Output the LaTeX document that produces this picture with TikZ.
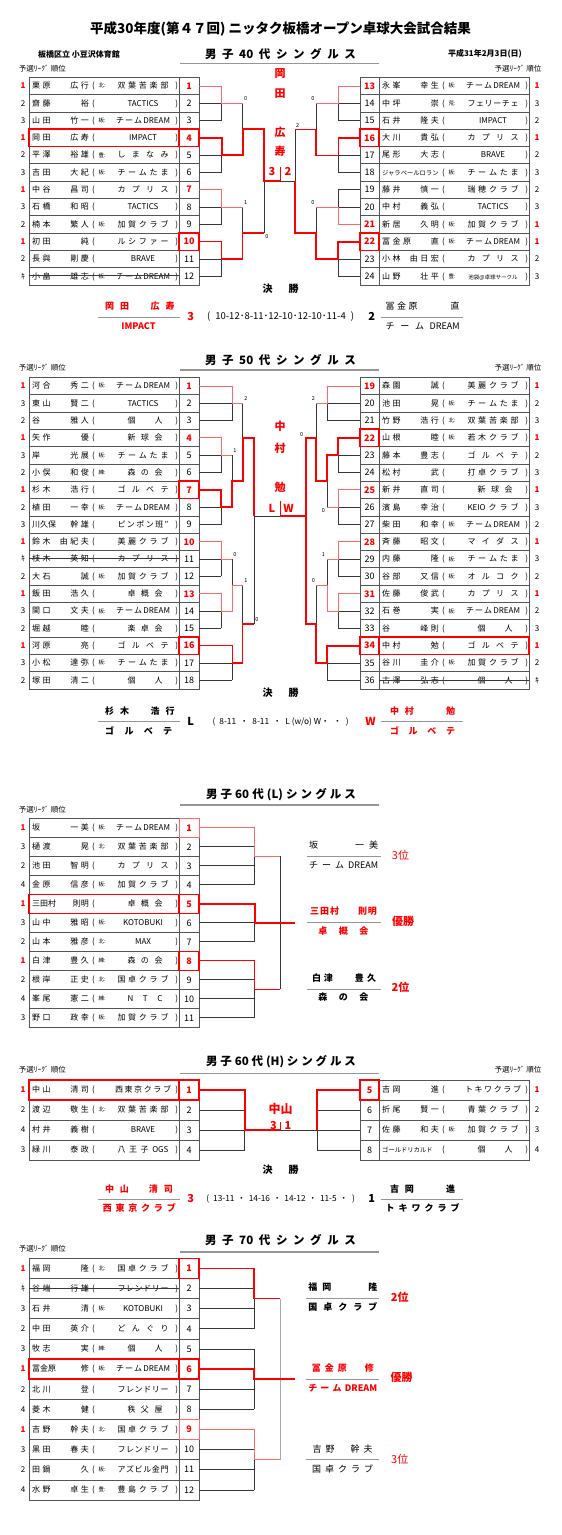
\documentclass[tikz,border=0pt]{standalone}
\usepackage{fontspec}
\setmainfont{Noto Sans CJK JP}
\definecolor{gline}{RGB}{55,55,55}
\definecolor{cellc}{RGB}{85,85,85}
\definecolor{lred}{RGB}{255,105,105}
\definecolor{uline}{RGB}{150,150,150}
\definecolor{vline}{RGB}{170,170,170}
\newcommand\fsz[1]{\fontsize{#1}{#1}\selectfont}
\def\spacedaux#1{\ifx\relax#1\relax\else\spsep\let\spsep\spnext#1\expandafter\spacedaux\fi}
\newcommand\spaced[2]{{\def\spnext{\kern#1}\let\spsep\relax\spacedaux#2\relax}}
\newcommand\distr[2]{\hbox to #1{\def\spnext{\hfil}\let\spsep\relax\spacedaux#2\relax}}
\newcommand\clL[1]{\distr{51pt}{#1}}
\newcommand\clS[1]{\kern4pt\distr{35pt}{#1}}
\newcommand\clD{\distr{54pt}{チーム{DREAM}}}
\newcommand\rd{\bfseries\color{red}}
\newcommand\RY[1]{\tY+\hY*(#1-0.5)}
\newcommand\RT[1]{\tY+\hY*(#1)}
\newcommand\namecell[6]{%
 \node[nm,anchor=west] at (#1+3,{\RY{#2}}) {\spaced{2.5pt}{#3}};
 \node[nm,anchor=east] at (#1+60,{\RY{#2}}) {\spaced{2.5pt}{#4}};
 \node[nm] at (#1+64.5,{\RY{#2}}) {(};
 \node[pf,anchor=west] at (#1+69.5,{\RY{#2}}) {#5};
 \node[nm] at (#1+114,{\RY{#2}}) {#6};
 \node[nm] at (#1+147.7,{\RY{#2}}) {)};}
\newcommand\rowL[7]{%
 \draw[cell] (29,{\RT{#1-1}}) rectangle (179,{\RT{#1}});
 \draw[cell] (179,{\RT{#1-1}}) rectangle (199,{\RT{#1}});
 \node[rk] at (23,{\RY{#1}}) {#2};
 \node[num] at (189,{\RY{#1}}) {#7};
 \namecell{29}{#1}{#3}{#4}{#5}{#6}}
\newcommand\rowR[7]{%
 \draw[cell] (360,{\RT{#1-1}}) rectangle (379,{\RT{#1}});
 \draw[cell] (379,{\RT{#1-1}}) rectangle (529,{\RT{#1}});
 \node[num] at (369.5,{\RY{#1}}) {#2};
 \node[rk] at (537,{\RY{#1}}) {#7};
 \namecell{379}{#1}{#3}{#4}{#5}{#6}}
\newcommand\nbL[2][rbox]{\draw[#1] (179,{\RT{#2-1}}) rectangle (199,{\RT{#2}});}
\newcommand\abL[2][rbox]{\draw[#1] (29,{\RT{#2-1}}) rectangle (179,{\RT{#2}});\nbL[#1]{#2}}
\newcommand\nbR[2][rbox]{\draw[#1] (360,{\RT{#2-1}}) rectangle (379,{\RT{#2}});}
\newcommand\abR[2][rbox]{\draw[#1] (379,{\RT{#2-1}}) rectangle (529,{\RT{#2}});\nbR[#1]{#2}}
\newcommand\stL[1]{\draw[gl] (29,{\RY{#1}-0.5}) -- (179,{\RY{#1}-0.5});}
\newcommand\stR[1]{\draw[gl] (379,{\RY{#1}-0.5}) -- (529,{\RY{#1}-0.5});}
\newcommand\yosen[2]{\node[yl] at (#1,#2) {予選ﾘｰｸﾞ\kern2pt 順位};}
\tikzset{
 gl/.style={draw=gline,line width=0.7pt},
 lr/.style={draw=lred,line width=0.9pt},
 mr/.style={draw=red,line width=1.3pt},
 tr/.style={draw=red,line width=2pt},
 cell/.style={draw=cellc,line width=0.7pt},
 rbox/.style={draw=red,line width=1.6pt},
 lbox/.style={draw=lred,line width=1pt},
 fl/.style={draw=uline,line width=1.2pt},
 ul/.style={draw=uline,line width=1.6pt},
 nm/.style={inner sep=0pt,font=\fsz{8},text height=6.4pt,text depth=0.8pt},
 pf/.style={inner sep=0pt,font=\fsz{5.5},text height=4.4pt,text depth=0.6pt},
 num/.style={inner sep=0pt,font=\fsz{9},text height=7pt,text depth=0.6pt},
 rk/.style={inner sep=0pt,font=\fsz{8},text height=6.2pt,text depth=0.6pt},
 sc/.style={inner sep=0pt,font=\fsz{5.5}},
 yl/.style={inner sep=0pt,font=\fsz{7.5}},
 hd/.style={inner sep=0pt,font=\bfseries\fsz{11.5}},
 fn/.style={inner sep=0pt,font=\bfseries\fsz{9},text height=7.2pt,text depth=0.9pt},
 fr/.style={inner sep=0pt,font=\fsz{9},text height=7.2pt,text depth=0.9pt},
 big/.style={inner sep=0pt,font=\bfseries\fsz{11}},
 pl/.style={inner sep=0pt,font=\fsz{11}},
 scr/.style={inner sep=0pt,font=\fsz{9.5}},
 scs/.style={inner sep=0pt,font=\fsz{8.3}},
}
\begin{document}
\begin{tikzpicture}[x=1pt,y=-1pt,line join=miter]
\useasboundingbox (0,0) rectangle (562,1535);
\fill[white] (0,0) rectangle (562,1535);
% ---------- header ----------
\node[inner sep=0pt,font=\bfseries\fsz{13.5}] (title) at (280.5,29) {平成30年度(第４７回) ニッタク板橋オープン卓球大会試合結果};
\node[inner sep=0pt,font=\bfseries\fsz{8}] (venue) at (79,54.3) {板橋区立 小豆沢体育館};
\node[inner sep=0pt,font=\bfseries\fsz{8}] (date) at (485,54.3) {平成31年2月3日(日)};
% =================== 40s ===================
\def\tY{77.3}\def\hY{17.3}
\node[hd] at (280.5,54.3) {\distr{151pt}{男子{40}代シングルス}};
\draw[ul] (180,63.3) -- (379,63.3);
\yosen{42.5}{69}\yosen{518}{69}
\rowL{1}{\rd 1}{栗原}{広行}{北:}{\clL{双葉苦楽部}}{\rd 1}
\rowL{2}{2}{齋藤}{裕}{}{TACTICS}{2}
\rowL{3}{3}{山田}{竹一}{板:}{\clD}{3}
\rowL{4}{\rd 1}{岡田}{広寿}{}{IMPACT}{\rd 4}
\rowL{5}{2}{平澤}{裕雄}{豊:}{\clL{しまなみ}}{5}
\rowL{6}{3}{吉田}{大紀}{板:}{\clL{チームたま}}{6}
\rowL{7}{\rd 1}{中谷}{昌司}{}{\clL{カプリス}}{\rd 7}
\rowL{8}{3}{石橋}{和昭}{}{TACTICS}{8}
\rowL{9}{2}{楠本}{繁人}{板:}{\clL{加賀クラブ}}{9}
\rowL{10}{\rd 1}{初田}{純}{}{\clL{ルシファー}}{\rd 10}
\rowL{11}{2}{長與}{剛慶}{}{BRAVE}{11}
\rowL{12}{ｷ}{小畠}{雄志}{板:}{\clD}{12}
\rowR{1}{\rd 13}{永峯}{幸生}{板:}{\clD}{\rd 1}
\rowR{2}{14}{中坪}{崇}{荒:}{\clL{フェリーチェ}}{3}
\rowR{3}{15}{石井}{隆夫}{}{IMPACT}{2}
\rowR{4}{\rd 16}{大川}{貴弘}{}{\clL{カプリス}}{\rd 1}
\rowR{5}{17}{尾形}{大志}{}{BRAVE}{2}
\rowR{6}{18}{{\fsz{6.3}ジャラベールロラン}}{}{板:}{\clL{チームたま}}{3}
\rowR{7}{19}{藤井}{慎一}{}{\clL{瑞穂クラブ}}{2}
\rowR{8}{20}{中村}{義弘}{}{TACTICS}{3}
\rowR{9}{\rd 21}{新居}{久明}{板:}{\clL{加賀クラブ}}{\rd 1}
\rowR{10}{\rd 22}{冨金原}{直}{板:}{\clD}{\rd 1}
\rowR{11}{23}{小林}{由日宏}{}{\clL{カプリス}}{2}
\rowR{12}{24}{山野}{壮平}{豊:}{{\fsz{5.5}池袋@卓球サークル}}{3}
\stL{12}
\abL{4}\nbL{10}\nbR{4}\nbR{10}
% left tree
\def\xa{221.7}\def\xb{242.7}\def\xc{264}
\foreach \q in {2,3,5,6,8,9,11,12} \draw[gl] (199,{\RY{\q}}) -- (\xa,{\RY{\q}});
\foreach \q in {2,5,8,11} \draw[gl] (\xa,{\RY{\q}}) -- (\xa,{\RY{\q+1}});
\draw[gl] (\xb,{\RY{2}}) -- (\xb,{\RY{3.5}});
\draw[gl] (\xb,{\RY{8}}) -- (\xb,{\RY{9.5}});
\draw[gl] (\xc,{\RY{6.5}}) -- (\xc,{\RY{9.5}});
\draw[lr] (199,{\RY{1}}) -| (\xa,{\RY{2}}) -- (\xb,{\RY{2}});
\draw[lr] (199,{\RY{7}}) -| (\xa,{\RY{8}}) -- (\xb,{\RY{8}});
\draw[mr] (199,{\RY{10}}) -| (\xa,{\RY{11}}) -- (\xb,{\RY{11}}) |- (\xc,{\RY{9.5}});
\draw[tr] (199,{\RY{4}}) -| (\xa,{\RY{5}}) -- (\xb,{\RY{5}}) |- (\xc,{\RY{3.5}}) |- (280,{\RY{6.5}});
% right tree
\def\xa{338.3}\def\xb{316}\def\xc{295}
\foreach \q in {2,3,5,6,7,8,11,12} \draw[gl] (360,{\RY{\q}}) -- (\xa,{\RY{\q}});
\foreach \q in {2,5,7,11} \draw[gl] (\xa,{\RY{\q}}) -- (\xa,{\RY{\q+1}});
\draw[gl] (\xb,{\RY{2}}) -- (\xb,{\RY{3.5}});
\draw[gl] (\xb,{\RY{8}}) -- (\xb,{\RY{9.5}});
\draw[gl] (\xc,{\RY{3.5}}) |- (280,{\RY{6.5}});
\draw[lr] (360,{\RY{1}}) -| (\xa,{\RY{2}}) -- (\xb,{\RY{2}});
\draw[lr] (360,{\RY{9}}) -| (\xa,{\RY{8}}) -- (\xb,{\RY{8}});
\draw[mr] (360,{\RY{4}}) -| (\xa,{\RY{5}}) -- (\xb,{\RY{5}}) |- (\xc,{\RY{3.5}});
\draw[tr] (360,{\RY{10}}) -| (\xa,{\RY{11}}) -- (\xb,{\RY{11}}) |- (\xc,{\RY{9.5}}) -- (\xc,{\RY{6.5}});
\draw[red,line width=0.8pt] (280,166.7) -- (280,{\RY{6.5}});
\node[sc] at (245.7,98.3) {0};\node[sc] at (245.7,203) {1};\node[sc] at (267,237) {0};
\node[sc] at (313,98.3) {0};\node[sc] at (313,203) {0};\node[sc] at (297.7,125.7) {2};
\node[big,text=red] at (272,171.5) {3};\node[big,text=red] at (288,171.5) {2};
\node[big,text=red] at (280,74) {岡};\node[big,text=red] at (280,93.3) {田};
\node[big,text=red] at (280,132.7) {広};\node[big,text=red] at (280,151) {寿};
% final 40s
\node[inner sep=0pt,font=\bfseries\fsz{10}] at (280.6,288.3) {\distr{36pt}{決勝}};
\draw[fl] (97.8,317.7) -- (179.9,317.7);
\draw[fl] (380.6,317.7) -- (463.3,317.7);
\node[fn,text=red] at (139.8,306.7) {\hbox to 69.5pt{\spaced{6pt}{岡田}\hfil\spaced{6pt}{広寿}}};
\node[fn,text=red] at (138.5,326.5) {IMPACT};
\node[big,text=red] at (190.6,316.7) {3};
\node[scr] at (280.6,316.7) {(\hskip5pt 10-12･8-11･12-10･12-10･11-4\hskip5pt)};
\node[big] at (371.6,316.7) {2};
\node[fr] at (422.7,306.7) {\hbox to 74pt{\spaced{2.5pt}{冨金原}\hfil 直}};
\node[fr] at (422.7,326.5) {\distr{74pt}{チーム{DREAM}}};
% =================== 50s ===================
\def\tY{377.3}\def\hY{17.32}
\node[hd] at (280.5,360) {\distr{151pt}{男子{50}代シングルス}};
\draw[ul] (180,370) -- (379,370);
\yosen{42.5}{368}\yosen{518}{368}
\rowL{1}{\rd 1}{河合}{秀二}{板:}{\clD}{\rd 1}
\rowL{2}{3}{東山}{賢二}{}{TACTICS}{2}
\rowL{3}{2}{谷}{雅人}{}{\clS{個人}}{3}
\rowL{4}{\rd 1}{矢作}{優}{}{\clS{新球会}}{\rd 4}
\rowL{5}{3}{岸}{光展}{板:}{\clL{チームたま}}{5}
\rowL{6}{2}{小俣}{和俊}{練:}{\clS{森の会}}{6}
\rowL{7}{\rd 1}{杉木}{浩行}{}{\clL{ゴルベテ}}{\rd 7}
\rowL{8}{2}{植田}{一幸}{板:}{\clD}{8}
\rowL{9}{3}{{川久保}}{幹雄}{}{\clL{ピンポン班”}}{9}
\rowL{10}{\rd 1}{鈴木}{由紀夫}{}{\clL{美麗クラブ}}{\rd 10}
\rowL{11}{ｷ}{枝木}{英知}{}{\clL{カプリス}}{11}
\rowL{12}{2}{大石}{誠}{板:}{\clL{加賀クラブ}}{12}
\rowL{13}{\rd 1}{飯田}{浩久}{}{\clS{卓概会}}{\rd 13}
\rowL{14}{3}{関口}{文夫}{板:}{\clD}{14}
\rowL{15}{2}{堀越}{睦}{}{\clS{楽卓会}}{15}
\rowL{16}{\rd 1}{河原}{亮}{}{\clL{ゴルベテ}}{\rd 16}
\rowL{17}{3}{小松}{達弥}{板:}{\clL{チームたま}}{17}
\rowL{18}{2}{塚田}{清二}{}{\clS{個人}}{18}
\rowR{1}{\rd 19}{森園}{誠}{}{\clL{美麗クラブ}}{\rd 1}
\rowR{2}{20}{池田}{晃}{板:}{\clL{チームたま}}{2}
\rowR{3}{21}{竹野}{浩行}{北:}{\clL{双葉苦楽部}}{3}
\rowR{4}{\rd 22}{山根}{睦}{板:}{\clL{若木クラブ}}{\rd 1}
\rowR{5}{23}{藤本}{豊志}{}{\clL{ゴルベテ}}{2}
\rowR{6}{24}{松村}{武}{}{\clL{打卓クラブ}}{3}
\rowR{7}{\rd 25}{新井}{直司}{}{\clS{新球会}}{\rd 1}
\rowR{8}{26}{濱島}{幸治}{}{\clL{{KEIO}クラブ}}{3}
\rowR{9}{27}{柴田}{和幸}{板:}{\clD}{2}
\rowR{10}{\rd 28}{斉藤}{昭文}{}{\clL{マイダス}}{\rd 1}
\rowR{11}{29}{内藤}{隆}{板:}{\clL{チームたま}}{3}
\rowR{12}{30}{谷部}{又信}{板:}{\clL{オルコク}}{2}
\rowR{13}{\rd 31}{佐藤}{俊武}{}{\clL{カプリス}}{\rd 1}
\rowR{14}{32}{石巻}{実}{板:}{\clD}{2}
\rowR{15}{33}{谷}{峰則}{}{\clS{個人}}{3}
\rowR{16}{\rd 34}{中村}{勉}{}{\clL{ゴルベテ}}{\rd 1}
\rowR{17}{35}{谷川}{圭介}{板:}{\clL{加賀クラブ}}{2}
\rowR{18}{36}{古澤}{弘志}{}{\clS{個人}}{ｷ}
\stL{11}\stR{18}
\nbL{7}\nbL{16}\nbR{4}\abR{16}
% left tree
\def\xa{221}\def\xb{232.3}\def\xc{242.7}\def\xd{254}
\foreach \q in {2,3,17,18} \draw[gl] (199,{\RY{\q}}) -- (\xb,{\RY{\q}});
\foreach \q in {5,6,8,9,11,12,14,15} \draw[gl] (199,{\RY{\q}}) -- (\xa,{\RY{\q}});
\foreach \q in {2,17} \draw[gl] (\xb,{\RY{\q}}) -- (\xb,{\RY{\q+1}});
\foreach \q in {5,8,11,14} \draw[gl] (\xa,{\RY{\q}}) -- (\xa,{\RY{\q+1}});
\draw[gl] (\xb,{\RY{5}}) -- (\xb,{\RY{6.5}});
\draw[gl] (\xb,{\RY{11}}) -- (\xb,{\RY{12.5}});
\draw[gl] (\xc,{\RY{2}}) -- (\xc,{\RY{4}});
\draw[gl] (\xc,{\RY{12.5}}) -- (\xc,{\RY{14.75}});
\draw[gl] (\xd,{\RY{14.75}}) -- (\xd,516) -- (280,516);
\draw[lr] (199,{\RY{1}}) -| (\xb,{\RY{2}}) -- (\xc,{\RY{2}});
\draw[lr] (199,{\RY{4}}) -| (\xa,{\RY{5}}) -- (\xb,{\RY{5}});
\draw[lr] (199,{\RY{10}}) -| (\xa,{\RY{11}}) -- (\xb,{\RY{11}});
\draw[lr] (199,{\RY{13}}) -| (\xa,{\RY{14}}) -- (\xb,{\RY{14}}) |- (\xc,{\RY{12.5}});
\draw[mr] (199,{\RY{16}}) -| (\xb,{\RY{17}}) -- (\xc,{\RY{17}}) |- (\xd,{\RY{14.75}});
\draw[tr] (199,{\RY{7}}) -| (\xa,{\RY{8}}) -- (\xb,{\RY{8}}) |- (\xc,{\RY{6.5}}) |- (\xd,{\RY{4}}) -- (\xd,516);
\node[sc] at (246,398.3) {2};\node[sc] at (235,451) {1};\node[sc] at (235,555) {0};
\node[sc] at (246,580.7) {1};\node[sc] at (257,620) {0};
% right tree
\def\xa{338.3}\def\xb{327.3}\def\xc{316}\def\xd{306}
\foreach \q in {2,3,17,18} \draw[gl] (360,{\RY{\q}}) -- (\xb,{\RY{\q}});
\foreach \q in {5,6,8,9,11,12,14,15} \draw[gl] (360,{\RY{\q}}) -- (\xa,{\RY{\q}});
\foreach \q in {2,17} \draw[gl] (\xb,{\RY{\q}}) -- (\xb,{\RY{\q+1}});
\foreach \q in {5,8,11,14} \draw[gl] (\xa,{\RY{\q}}) -- (\xa,{\RY{\q+1}});
\draw[gl] (\xb,{\RY{6.5}}) -- (\xb,{\RY{8}});
\draw[gl] (\xb,{\RY{11}}) -- (\xb,{\RY{12.5}});
\draw[gl] (\xc,{\RY{2}}) -- (\xc,{\RY{4}});
\draw[gl] (\xc,{\RY{12.5}}) -- (\xc,{\RY{14.75}});
\draw[lr] (360,{\RY{1}}) -| (\xb,{\RY{2}}) -- (\xc,{\RY{2}});
\draw[lr] (360,{\RY{7}}) -| (\xa,{\RY{8}}) -- (\xb,{\RY{8}});
\draw[lr] (360,{\RY{10}}) -| (\xa,{\RY{11}}) -- (\xb,{\RY{11}});
\draw[lr] (360,{\RY{13}}) -| (\xa,{\RY{14}}) -- (\xb,{\RY{14}}) |- (\xc,{\RY{12.5}});
\draw[tr] (360,{\RY{4}}) -| (\xa,{\RY{5}}) -- (\xb,{\RY{5}}) |- (\xc,{\RY{6.5}}) |- (\xd,{\RY{4}}) -- (\xd,516);
\draw[tr] (360,{\RY{16}}) -| (\xb,{\RY{17}}) -- (\xc,{\RY{17}}) |- (\xd,{\RY{14.75}}) |- (280,516);
\node[sc] at (313.3,398.3) {2};\node[sc] at (323.3,510.7) {0};\node[sc] at (323.3,555) {1};
\node[sc] at (313.3,580.7) {0};\node[sc] at (301.7,434.3) {0};
\draw[red,line width=0.8pt] (280,501) -- (280,516);
\node[big,text=red] at (272,508.3) {L};\node[big,text=red] at (288.5,508.3) {W};
\node[big,text=red] at (280,426.7) {中};\node[big,text=red] at (280,448.3) {村};
\node[big,text=red] at (280,487.5) {勉};
% final 50s
\node[inner sep=0pt,font=\bfseries\fsz{10}] at (280.6,692.7) {\distr{36pt}{決勝}};
\draw[fl] (97.8,721.7) -- (179.9,721.7);
\draw[fl] (380.6,721.7) -- (463.3,721.7);
\node[fn] at (139.8,711.7) {\hbox to 69.5pt{\spaced{6pt}{杉木}\hfil\spaced{6pt}{浩行}}};
\node[fn] at (138.7,731) {\distr{67pt}{ゴルベテ}};
\node[big] at (190.6,721.7) {L};
\node[scs] at (280.6,721.7) {(\hskip4pt 8-11\hskip4pt ・\hskip4pt 8-11\hskip4pt ・\hskip4pt L (w/o) W・\hskip4pt ・\hskip4pt)};
\node[big,text=red] at (370.5,721.7) {W};
\node[fn,text=red] at (422.5,711.7) {\hbox to 65pt{\spaced{6pt}{中村}\hfil 勉}};
\node[fn,text=red] at (422.5,731) {\distr{65pt}{ゴルベテ}};
% =================== 60L ===================
\def\tY{818.3}\def\hY{19}
\node[hd] at (281,795) {\distr{150pt}{男子{60}代{(L)}シングルス}};
\draw[ul] (180,805) -- (379,805);
\yosen{42.5}{810}
\rowL{1}{\rd 1}{坂}{一美}{板:}{\clD}{\rd 1}
\rowL{2}{3}{樋渡}{晃}{北:}{\clL{双葉苦楽部}}{2}
\rowL{3}{2}{池田}{智明}{}{\clL{カプリス}}{3}
\rowL{4}{4}{金原}{信彦}{板:}{\clL{加賀クラブ}}{4}
\rowL{5}{\rd 1}{{三田村}}{{則明}}{}{\clS{卓概会}}{\rd 5}
\rowL{6}{3}{山中}{雅昭}{板:}{KOTOBUKI}{6}
\rowL{7}{2}{山本}{雅彦}{北:}{MAX}{7}
\rowL{8}{\rd 1}{白津}{豊久}{練:}{\clS{森の会}}{\rd 8}
\rowL{9}{2}{根岸}{正史}{北:}{\clL{国卓クラブ}}{9}
\rowL{10}{4}{峯尾}{憲二}{練:}{\clS{NTC}}{10}
\rowL{11}{3}{野口}{政幸}{板:}{\clL{加賀クラブ}}{11}
\nbL[lbox]{1}\abL{5}\nbL{8}
\foreach \q in {2,3,4,6,7,9,10,11} \draw[gl] (199,{\RY{\q}}) -- (254.7,{\RY{\q}});
\draw[gl] (254.7,{\RY{2.5}}) -- (254.7,{\RY{4}});
\draw[gl] (254.7,{\RY{6}}) -- (254.7,{\RY{7}});
\draw[gl] (254.7,{\RY{9.5}}) -- (254.7,{\RY{11}});
\draw[gl] (280,{\RY{2.5}}) -- (280,{\RY{9.5}});
\draw[lr] (199,{\RY{1}}) -| (254.7,{\RY{2.5}}) -- (280,{\RY{2.5}});
\draw[mr] (199,{\RY{8}}) -| (254.7,{\RY{9.5}}) -- (280,{\RY{9.5}});
\draw[tr] (199,{\RY{5}}) -| (254.7,{\RY{6}}) -- (295,{\RY{6}});
\draw[fl] (306.8,{\RY{2.5}}) -- (380.6,{\RY{2.5}});
\draw[fl] (306.8,{\RY{6}}) -- (380.6,{\RY{6}});
\draw[fl] (306.8,{\RY{9.5}}) -- (380.6,{\RY{9.5}});
\node[fr] at (343.7,845.7) {\hbox to 69pt{坂\hfil\spaced{5pt}{一美}}};
\node[fr] at (343.7,865.5) {\distr{69pt}{チーム{DREAM}}};
\node[pl,text=red] at (400.5,855) {3位};
\node[fn,text=red] at (343.5,911.7) {\hbox to 67pt{\spaced{1pt}{三田村}\hfil\spaced{1pt}{則明}}};
\node[fn,text=red] at (343.4,931.5) {\distr{50pt}{卓概会}};
\node[big,text=red] at (403,921.7) {優勝};
\node[fn] at (344,978.3) {\hbox to 64pt{\spaced{3pt}{白津}\hfil\spaced{3pt}{豊久}}};
\node[fn] at (343.4,997.5) {\distr{50pt}{森の会}};
\node[big,text=red] at (400.5,987.3) {2位};
% =================== 60H ===================
\def\tY{1080}\def\hY{20}
\node[hd] at (281,1061.7) {\distr{150pt}{男子{60}代{(H)}シングルス}};
\draw[ul] (180,1073.3) -- (379,1073.3);
\yosen{42.5}{1070}\yosen{518}{1070}
\rowL{1}{\rd 1}{中山}{清司}{}{\distr{56pt}{西東京クラブ}}{\rd 1}
\rowL{2}{2}{渡辺}{敬生}{北:}{\clL{双葉苦楽部}}{2}
\rowL{3}{4}{村井}{義樹}{}{BRAVE}{3}
\rowL{4}{3}{緑川}{泰政}{}{\clL{八王子{OGS}}}{4}
\rowR{1}{\rd 5}{吉岡}{進}{}{\distr{56pt}{トキワクラブ}}{\rd 1}
\rowR{2}{6}{折尾}{賢一}{}{\clL{青葉クラブ}}{2}
\rowR{3}{7}{佐藤}{和夫}{板:}{\clL{加賀クラブ}}{3}
\rowR{4}{8}{{\fsz{6.3}ゴールドリカルド}}{}{}{\clS{個人}}{4}
\abL{1}\nbR{1}
\foreach \q in {2,3,4} \draw[gl] (199,{\RY{\q}}) -- (244.6,{\RY{\q}});
\draw[gl] (244.6,{\RY{3}}) -- (244.6,{\RY{4}});
\foreach \q in {2,3,4} \draw[gl] (360,{\RY{\q}}) -- (317.3,{\RY{\q}});
\draw[gl] (317.3,{\RY{4}}) -- (317.3,{\RY{3}}) -- (280.6,{\RY{3}});
\draw[tr] (199,{\RY{1}}) -| (244.6,{\RY{3}}) -- (280.6,{\RY{3}});
\draw[tr] (360,{\RY{1}}) -| (317.3,{\RY{3}});
\draw[red,line width=0.8pt] (280.6,1121.5) -- (280.6,{\RY{3}});
\node[big,text=red] at (273.4,1125) {3};\node[big,text=red] at (288,1125) {1};
\node[inner sep=0pt,font=\bfseries\fsz{12},text=red] at (280.6,1109) {中山};
\node[inner sep=0pt,font=\bfseries\fsz{10}] at (280.6,1170) {\distr{36pt}{決勝}};
\draw[fl] (97.8,1199.3) -- (179.9,1199.3);
\draw[fl] (380.6,1199.3) -- (463.3,1199.3);
\node[fn,text=red] at (139,1189) {\hbox to 68pt{\spaced{6pt}{中山}\hfil\spaced{6pt}{清司}}};
\node[fn,text=red] at (139.3,1208.8) {\distr{73pt}{西東京クラブ}};
\node[big,text=red] at (190.6,1198.5) {3};
\node[scs] at (280.6,1198.5) {(\hskip4pt 13-11\hskip3pt ・\hskip3pt 14-16\hskip3pt ・\hskip3pt 14-12\hskip3pt ・\hskip3pt 11-5\hskip3pt ・\hskip4pt)};
\node[big] at (371.6,1198.5) {1};
\node[fn] at (422.5,1189) {\hbox to 65pt{\spaced{6pt}{吉岡}\hfil 進}};
\node[fn] at (422.7,1208.8) {\distr{74pt}{トキワクラブ}};
% =================== 70s ===================
\def\tY{1258.3}\def\hY{20.14}
\node[hd] at (280.5,1240) {\distr{151pt}{男子{70}代シングルス}};
\draw[ul] (180,1251.7) -- (379,1251.7);
\yosen{42.5}{1249}
\rowL{1}{\rd 1}{福岡}{隆}{北:}{\clL{国卓クラブ}}{\rd 1}
\rowL{2}{ｷ}{谷端}{行雄}{}{\clL{フレンドリー}}{2}
\rowL{3}{3}{石井}{清}{板:}{KOTOBUKI}{3}
\rowL{4}{2}{中田}{英介}{}{\clL{どんぐり}}{4}
\rowL{5}{3}{牧志}{実}{練:}{\clS{個人}}{5}
\rowL{6}{\rd 1}{{冨金原}}{修}{板:}{\clD}{\rd 6}
\rowL{7}{2}{北川}{登}{}{\clL{フレンドリー}}{7}
\rowL{8}{4}{菱木}{健}{}{\clS{秩父屋}}{8}
\rowL{9}{\rd 1}{吉野}{幹夫}{北:}{\clL{国卓クラブ}}{\rd 9}
\rowL{10}{3}{黒田}{春夫}{}{\clL{フレンドリー}}{10}
\rowL{11}{2}{田鍋}{久}{板:}{\clL{アズビル金門}}{11}
\rowL{12}{4}{水野}{卓生}{豊:}{\clL{豊島クラブ}}{12}
\stL{2}
\nbL{1}\abL{6}\nbL[lbox]{9}
\foreach \q in {2,3,4,5,7,8,10,11,12} \draw[gl] (199,{\RY{\q}}) -- (254,{\RY{\q}});
\draw[gl] (254,{\RY{2.5}}) -- (254,{\RY{4}});
\draw[gl] (254,{\RY{5}}) -- (254,{\RY{8}});
\draw[gl] (254,{\RY{10.5}}) -- (254,{\RY{12}});
\draw[draw=vline,line width=0.7pt] (280,{\RY{2.5}}) -- (280,{\RY{10.5}});
\draw[mr] (199,{\RY{1}}) -| (254,{\RY{2.5}}) -- (280,{\RY{2.5}});
\draw[lr] (199,{\RY{9}}) -| (254,{\RY{10.5}}) -- (280,{\RY{10.5}});
\draw[tr] (199,{\RY{6}}) -| (254,{\RY{6.5}}) -- (295,{\RY{6.5}});
\draw[fl] (305.7,{\RY{2.5}}) -- (379.3,{\RY{2.5}});
\draw[fl] (305.7,{\RY{6.5}}) -- (379.3,{\RY{6.5}});
\draw[fl] (305.7,{\RY{10.5}}) -- (379.3,{\RY{10.5}});
\node[fn] at (342.8,1287.3) {\hbox to 69pt{\spaced{5pt}{福岡}\hfil 隆}};
\node[fn] at (342.8,1307.5) {\distr{69pt}{国卓クラブ}};
\node[big,text=red] at (399.7,1297.7) {2位};
\node[fn,text=red] at (342.8,1368.3) {\hbox to 62pt{\spaced{4pt}{冨金原}\hfil 修}};
\node[fn,text=red] at (342.8,1388.8) {\distr{69pt}{チーム{DREAM}}};
\node[big,text=red] at (401.5,1377.7) {優勝};
\node[fr] at (342.7,1449) {\hbox to 60pt{\spaced{4pt}{吉野}\hfil\spaced{4pt}{幹夫}}};
\node[fr] at (342.7,1469.8) {\distr{61pt}{国卓クラブ}};
\node[pl,text=red] at (399.7,1459) {3位};
\end{tikzpicture}
\end{document}
